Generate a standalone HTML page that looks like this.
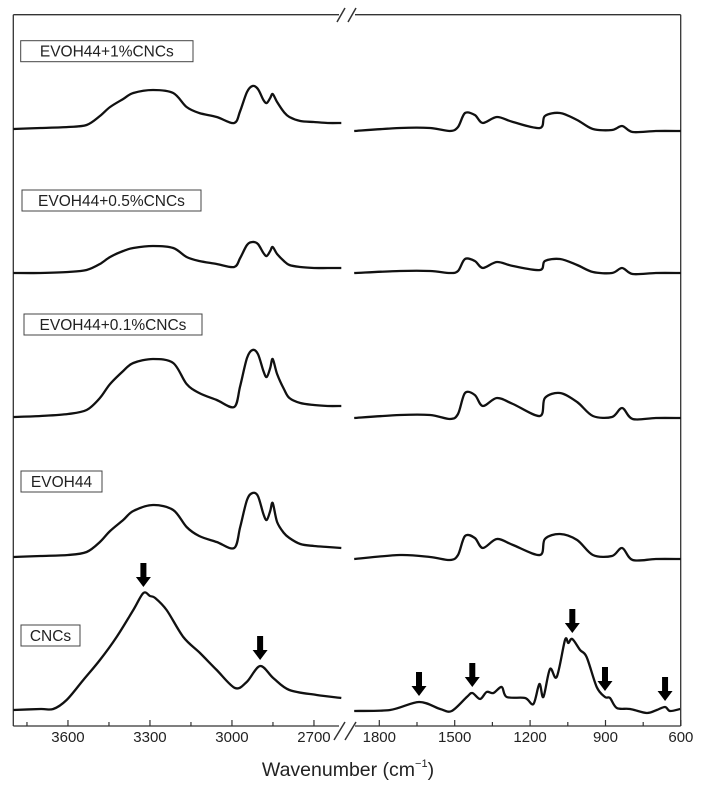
<!DOCTYPE html>
<html><head><meta charset="utf-8"><style>
html,body{margin:0;padding:0;background:#fff;}
svg{display:block;font-family:"Liberation Sans",Arial,sans-serif;}
</style></head><body>
<svg id="chart" width="702" height="791" viewBox="0 0 702 791" xmlns="http://www.w3.org/2000/svg">
<g id="frame" stroke="#333" stroke-width="1.3" fill="none">
  <line x1="13.3" y1="14.7" x2="13.3" y2="726"/>
  <line x1="680.7" y1="14.7" x2="680.7" y2="726"/>
  <line x1="13.3" y1="14.7" x2="339" y2="14.7"/>
  <line x1="355" y1="14.7" x2="680.7" y2="14.7"/>
  <line x1="13.3" y1="726" x2="339" y2="726"/>
  <line x1="355" y1="726" x2="680.7" y2="726"/>
  <g stroke-width="1.5">
    <line x1="337" y1="22" x2="345" y2="8"/><line x1="348" y1="22" x2="356" y2="8"/>
  </g>
  <g stroke-width="1.5">
    <line x1="334" y1="740" x2="345" y2="722"/><line x1="345" y1="740" x2="356" y2="722"/>
  </g>
</g>
<g id="ticks" stroke="#333" stroke-width="1.2"></g>
<g id="ticklabels" font-size="15" fill="#222" text-anchor="middle"></g>
<text x="348" y="776" font-size="19.5" text-anchor="middle" fill="#222">Wavenumber (cm<tspan font-size="11" dy="-9">−1</tspan><tspan dy="9">)</tspan></text>
<g id="series" fill="none" stroke="#111" stroke-width="2.3" stroke-linejoin="round"></g>
<g id="labels" font-size="15.5" fill="#222"></g>
<g id="arrows" fill="#000"></g>
</svg>
<script>
const leftWn = [3800,3700,3600,3532,3483,3446,3398,3361,3289,3215,3166,3120,3056,2992,2970,2945,2925,2905,2885,2873,2860,2851,2835,2810,2790,2750,2700,2650,2600];
const s1pct = [597,598,599,601,610,619,627,633,636,633,619,613,609,603,615,634,640,637,626,623,628,632,624,614,609,605,604,603,603];
const s05pct = [453,453,454,456,462,469,475,478,480,478,469,465,462,459,468,481,484,482,473,470,475,479,472,465,461,459,458,458,458];
const s01pct = [309,310,312,316,328,342,355,363,367,363,342,333,326,319,340,368,376,372,355,349,358,367,352,337,328,323,321,320,320];
const sEvoh = [169,170,171,174,184,195,206,215,221,216,199,190,184,178,199,226,233,230,212,206,215,223,204,193,188,182,180,179,178];
const cncLeftWn = [3800,3700,3654,3605,3544,3483,3422,3361,3324,3300,3281,3239,3178,3117,3056,2989,2946,2897,2849,2790,2690,2600];
const cncLeft = [16,17,17,26,46,66,89,116,133,130,128,116,89,73,56,38,44,60,48,36,31,28];
const rightWn = [1900,1718,1598,1519,1487,1459,1420,1388,1332,1268,1161,1141,1081,1013,950,874,834,792,700,600];
const r1pct = [595,598,598,595,599,613,611,603,609,604,598,610,613,606,597,596,600,594,595,595];
const r05pct = [453,455,455,453,455,467,465,458,464,460,456,465,467,461,454,453,458,452,453,453];
const r01pct = [308,311,311,307,312,333,331,320,328,322,310,328,333,324,310,309,318,307,308,308];
const rEvoh = [167,171,169,166,171,190,188,178,187,181,171,187,192,186,171,170,178,166,167,167];
const cncRightWn = [1900,1757,1642,1558,1512,1452,1430,1399,1373,1346,1313,1293,1220,1187,1163,1147,1121,1094,1061,1048,1032,1001,975,935,902,882,855,802,736,696,663,643,603];
const cncRight = [15,16,24,17,15,29,33,27,34,33,39,29,28,22,42,29,57,49,86,83,87,76,69,39,29,28,18,17,13,16,19,15,17];
const leftTicks = [3600,3300,3000,2700];
const leftMinor = [3750,3450,3150,2850];
const rightTicks = [1800,1500,1200,900,600];
const rightMinor = [1650,1350,1050,750];
const labelNames = ["EVOH44+1%CNCs","EVOH44+0.5%CNCs","EVOH44+0.1%CNCs","EVOH44","CNCs"];
const arrowLeftWn = [3324,2897];
const arrowRightWn = [1642,1430,1032,902,663];

const NS = "http://www.w3.org/2000/svg";
function xLeft(w){ return 13.3 + (3800 - w) * 0.27333; }
function xRight(w){ return 379.3 + (1800 - w) * 0.25133; }
function y(v){ return 726 - v; }
function mk(tag, attrs, parent){ const e=document.createElementNS(NS,tag); for(const k in attrs) e.setAttribute(k,attrs[k]); parent.appendChild(e); return e; }

const series = document.getElementById('series');
function smoothPath(pts){
  let d = 'M'+pts[0][0].toFixed(1)+' '+pts[0][1].toFixed(1);
  for(let i=0;i<pts.length-1;i++){
    const p0=pts[Math.max(0,i-1)], p1=pts[i], p2=pts[i+1], p3=pts[Math.min(pts.length-1,i+2)];
    const k=0.16;
    const c1=[p1[0]+(p2[0]-p0[0])*k, p1[1]+(p2[1]-p0[1])*k];
    const c2=[p2[0]-(p3[0]-p1[0])*k, p2[1]-(p3[1]-p1[1])*k];
    d += ' C'+c1[0].toFixed(1)+' '+c1[1].toFixed(1)+' '+c2[0].toFixed(1)+' '+c2[1].toFixed(1)+' '+p2[0].toFixed(1)+' '+p2[1].toFixed(1);
  }
  return d;
}
function line(wn, vals, xf, name){
  const pts = wn.map((w,i)=>[xf(w), y(vals[i])]);
  const p = mk('path',{d:smoothPath(pts)},series);
  
  
}
line(leftWn,s1pct,xLeft,'spectrum-1pct-left');
line(leftWn,s05pct,xLeft,'spectrum-05pct-left');
line(leftWn,s01pct,xLeft,'spectrum-01pct-left');
line(leftWn,sEvoh,xLeft,'spectrum-evoh44-left');
line(cncLeftWn,cncLeft,xLeft,'spectrum-cncs-left');
line(rightWn,r1pct,xRight,'spectrum-1pct-right');
line(rightWn,r05pct,xRight,'spectrum-05pct-right');
line(rightWn,r01pct,xRight,'spectrum-01pct-right');
line(rightWn,rEvoh,xRight,'spectrum-evoh44-right');
line(cncRightWn,cncRight,xRight,'spectrum-cncs-right');

const ticks = document.getElementById('ticks');
const tl = document.getElementById('ticklabels');
function addTicks(arr, xf, len, labels){
  arr.forEach(w=>{
    const t = mk('line',{x1:xf(w),x2:xf(w),y1:726,y2:726-len},ticks);
    
    
    if(labels){
      const tx = mk('text',{x:xf(w),y:742},tl);
      tx.textContent = w;
      
      
    }
  });
}
addTicks(leftTicks,xLeft,6,true);
addTicks(leftMinor,xLeft,4,false);
addTicks(rightTicks,xRight,6,true);
addTicks(rightMinor,xRight,4,false);

const labels = document.getElementById('labels');
const boxes = [[20.7,40.7,172.3],[22,190,179],[24,314,178],[21,471,81],[21,625,59]];
labelNames.forEach((n,i)=>{
  const b = boxes[i];
  const g = mk('g',{},labels);
  
  
  mk('rect',{x:b[0],y:b[1],width:b[2],height:21,fill:'#fff',stroke:'#444','stroke-width':1},g);
  const t = mk('text',{x:b[0]+b[2]/2,y:b[1]+16,'text-anchor':'middle'},g);
  t.textContent = n;
});

const arrows = document.getElementById('arrows');
function arrow(x, tipY){
  const top = tipY - 24;
  const d = `M${x-3} ${top} L${x+3} ${top} L${x+3} ${tipY-10} L${x+7.5} ${tipY-10} L${x} ${tipY} L${x-7.5} ${tipY-10} L${x-3} ${tipY-10} Z`;
  const p = mk('path',{d:d},arrows);
  
  
}
function valAt(wn, vals, w){
  for(let i=0;i<wn.length-1;i++){ if(w<=wn[i] && w>=wn[i+1]){ const t=(wn[i]-w)/(wn[i]-wn[i+1]); return vals[i]+t*(vals[i+1]-vals[i]); } }
  return vals[0];
}
arrowLeftWn.forEach(w=>arrow(xLeft(w), y(valAt(cncLeftWn,cncLeft,w))-6));
arrowRightWn.forEach(w=>arrow(xRight(w), y(valAt(cncRightWn,cncRight,w))-6));
</script>
</body></html>
